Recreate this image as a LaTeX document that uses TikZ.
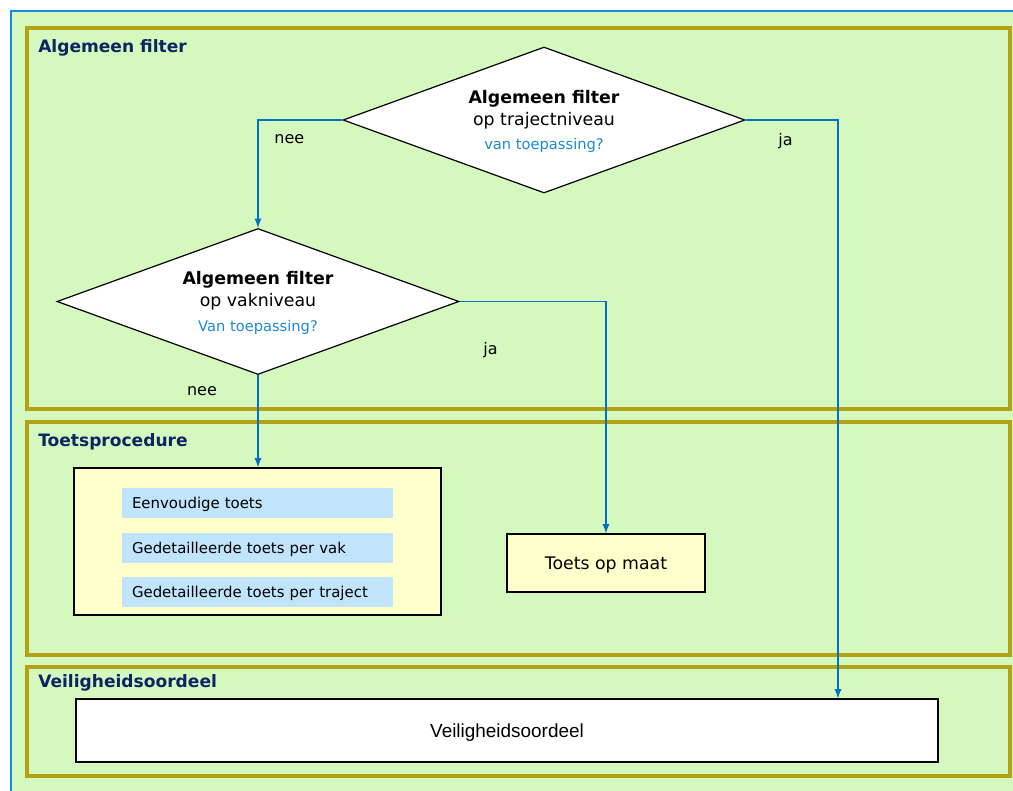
\documentclass[tikz,border=0pt]{standalone}
\usepackage{fontspec}
\setmainfont{DejaVu Sans}
\newfontfamily\arialfont{Liberation Sans}
\usepackage{xcolor}
\usepackage{tikz}
\usetikzlibrary{shapes.geometric}
\usetikzlibrary{positioning}
\definecolor{vlakgroen}{RGB}{213,248,191}
\definecolor{kaderoker}{RGB}{180,162,20}
\definecolor{kopblauw}{RGB}{12,36,96}
\definecolor{pijlblauw}{RGB}{0,114,198}
\definecolor{vraagblauw}{RGB}{30,136,216}
\definecolor{rahmenblauw}{RGB}{20,140,220}
\definecolor{blokgeel}{RGB}{255,255,204}
\definecolor{stapblauw}{RGB}{192,228,252}
\tikzset{
  Pijl/.style={draw=pijlblauw, line width=1.4pt, ->}, % verbindingslijnen
  Kader/.style={draw=kaderoker, line width=2.6pt, fill=vlakgroen}, % panelen
  Kop/.style={anchor=west, inner sep=0pt, text=kopblauw,
    font=\fontsize{12.8}{15}\selectfont\bfseries}, % paneeltitels
  Keuze/.style={diamond, aspect=2.75, draw, line width=0.9pt, fill=white,
    minimum width=301.5pt, minimum height=109.5pt, inner sep=0pt, text depth=-2pt,
    align=center, font=\fontsize{13}{16.5}\selectfont}, % beslissingen
  Blok/.style={draw, line width=0.9pt, fill=blokgeel, text depth=-2pt}, % toetsblokken
  Stap/.style={fill=stapblauw, minimum width=203.25pt, minimum height=22.5pt,
    text width=188.25pt, inner xsep=7.5pt, align=left, text depth=-2pt,
    font=\fontsize{11.2}{13}\selectfont}, % toetssoorten
  Label/.style={font=\fontsize{12}{14}\selectfont, inner sep=0pt}
}

\begin{document}
\begin{tikzpicture}[x=0.75pt, y=-0.75pt,
>=latex % pijlpunten
]
\useasboundingbox (0,0) rectangle (1013,790);

%Achtergrond
\fill[vlakgroen] (11,11) rectangle (1030,810);
\draw[rahmenblauw, line width=1pt] (11,810) -- (11,11) -- (1030,11);

%Panelen
\draw[Kader] (27,28) rectangle (1010,409);
\draw[Kader] (27,422) rectangle (1010,655);
\draw[Kader] (27,667) rectangle (1010,776);
\node[Kop] (T1) at (38,48) {Algemeen filter};
\node[Kop] (T2) at (38,442) {Toetsprocedure};
\node[Kop] (T3) at (38,683) {Veiligheidsoordeel};

%Beslissingen
\node[Keuze] (K1) at (544,120) {\textbf{Algemeen filter}\\op trajectniveau\\[2pt]
  {\fontsize{11}{13}\selectfont\color{vraagblauw}van toepassing?}};
\node[Keuze] (K2) at (258,301.5) {\textbf{Algemeen filter}\\op vakniveau\\[2pt]
  {\fontsize{11}{13}\selectfont\color{vraagblauw}Van toepassing?}};

%Toetsen
\node[Blok, minimum width=275.25pt, minimum height=110.25pt] (TB) at (257.5,541.5) {};
\node[Stap] (S1) at (257.5,502.5) {Eenvoudige toets};
\node[Stap, below=11pt of S1] (S2) {Gedetailleerde toets per vak};
\node[Stap, below=10.5pt of S2] (S3) {Gedetailleerde toets per traject};
\node[Blok, minimum width=148.5pt, minimum height=43.5pt,
  font=\fontsize{13}{15}\selectfont] (TM) at (606,563) {Toets op maat};

%Oordeel
\node[draw, line width=0.9pt, fill=white, minimum width=646.5pt, minimum height=47.25pt,
  text depth=-2pt, font=\arialfont\fontsize{14.2}{16}\selectfont] (V) at (507,730.5) {Veiligheidsoordeel};

%Verbindingen
\draw[Pijl] (K1.west) -| (K2.north);
\draw[Pijl] (K1.east) -| ([xshift=248.25pt]V.north);
\draw[Pijl] (K2.east) -| (TM.north);
\draw[Pijl] (K2.south) -- (K2.south |- TB.north);

%Labels
\node[Label] (L1) at ([shift={(-53,19)}]K1.west) {nee};
\node[Label] (L2) at ([shift={(40,21)}]K1.east) {ja};
\node[Label] (L3) at ([shift={(31,49)}]K2.east) {ja};
\node[Label] (L4) at ([shift={(-56,16)}]K2.south) {nee};
\end{tikzpicture}
\end{document}
